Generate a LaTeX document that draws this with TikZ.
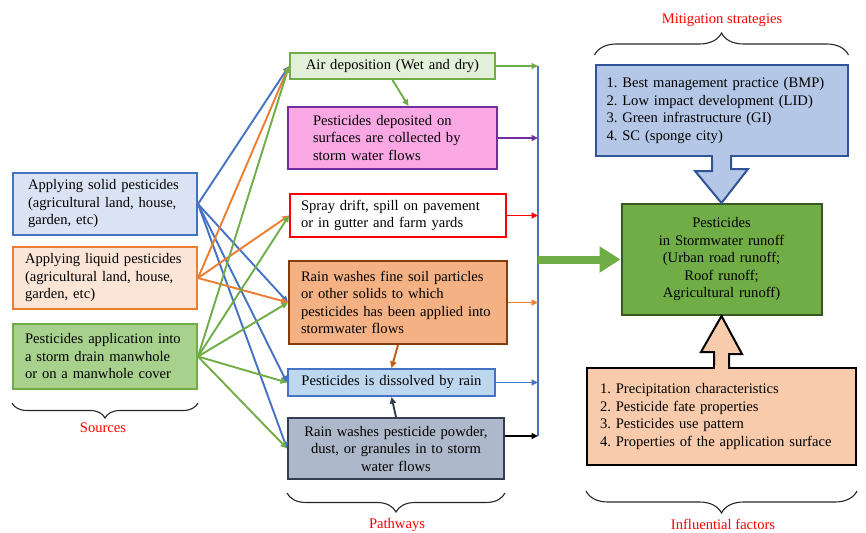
\documentclass[tikz,border=0pt]{standalone}
\usepackage{fontspec}
\setmainfont{Liberation Serif}
\usetikzlibrary{arrows.meta,decorations.pathreplacing,calc}
\frenchspacing

\definecolor{lineblue}{HTML}{4472C4}
\definecolor{lineorange}{HTML}{ED7D31}
\definecolor{linegreen}{HTML}{70AD47}
\definecolor{srcblue}{HTML}{DAE3F3}
\definecolor{srcorange}{HTML}{FBE5D6}
\definecolor{srcgreen}{HTML}{A9D18E}
\definecolor{airfill}{HTML}{E2F0D9}
\definecolor{pinkfill}{HTML}{F9A8E4}
\definecolor{purpleline}{HTML}{7030A0}
\definecolor{soilfill}{HTML}{F4B183}
\definecolor{soilline}{HTML}{843C0C}
\definecolor{soilarrow}{HTML}{C55A11}
\definecolor{rainfill}{HTML}{BDD7EE}
\definecolor{dustfill}{HTML}{ADB9CA}
\definecolor{dustline}{HTML}{333F50}
\definecolor{mitfill}{HTML}{B4C7E7}
\definecolor{mitline}{HTML}{2F5597}
\definecolor{runfill}{HTML}{70AD47}
\definecolor{runline}{HTML}{385723}
\definecolor{facfill}{HTML}{F8CBAD}

\begin{document}
\begin{tikzpicture}
  [x=1pt,y=-1pt,
   font=\fontsize{14.6}{17.5}\selectfont,
   box/.style={draw,line width=2pt,inner ysep=3pt},
   link/.style={line width=1.9pt,-{Triangle[length=6.5pt,width=6pt]}},
   brc/.style={decorate,decoration={brace,amplitude=#1},draw=black!85,line width=1.1pt},
   lbl/.style={text=red}]
  \useasboundingbox (0,0) rectangle (866,532);

  % Sources
  \node[box,draw=lineblue,fill=srcblue,inner xsep=15pt,text width=154pt,minimum height=62pt,align=left] (S1) at (105,204)
    {Applying solid pesticides\\(agricultural land, house,\\garden, etc)};
  \node[box,draw=lineorange,fill=srcorange,inner xsep=12pt,text width=160pt,minimum height=62pt,align=left] (S2) at (105,278)
    {Applying liquid pesticides\\(agricultural land, house,\\garden, etc)};
  \node[box,draw=linegreen,fill=srcgreen,inner xsep=12pt,text width=160pt,minimum height=65pt,align=left] (S3) at (105,356.5)
    {Pesticides application into\\a storm drain manwhole\\or on a manwhole cover};

  % Pathways
  \node[box,draw=linegreen,fill=airfill,inner xsep=6pt,text width=193pt,minimum height=26pt,align=center] (P1) at (392.5,66)
    {Air deposition (Wet and dry)};
  \node[box,draw=purpleline,fill=pinkfill,inner xsep=25pt,text width=159pt,minimum height=62pt,align=left] (P2) at (392.5,138)
    {Pesticides deposited on\\surfaces are collected by\\storm water flows};
  \node[box,draw=red,fill=white,inner xsep=11pt,text width=194pt,minimum height=43pt,align=left] (P3) at (398,215.5)
    {Spray drift, spill on pavement\\or in gutter and farm yards};
  \node[box,draw=soilline,fill=soilfill,inner xsep=12pt,text width=194pt,minimum height=83pt,align=left] (P4) at (398,302.5)
    {Rain washes fine soil particles\\or other solids to which\\pesticides has been applied into\\stormwater flows};
  \node[box,draw=lineblue,fill=rainfill,inner xsep=6pt,text width=195pt,minimum height=27pt,align=center] (P5) at (391.5,382.5)
    {Pesticides is dissolved by rain};
  \node[box,draw=dustline,fill=dustfill,inner xsep=6pt,text width=204pt,minimum height=61pt,align=center] (P6) at (396,448.5)
    {Rain washes pesticide powder,\\dust, or granules in to storm\\water flows};

  % Mitigation, runoff, factors
  \node[box,draw=mitline,fill=mitfill,inner xsep=11pt,text width=230pt,minimum height=91pt,align=left] (MS) at (721.5,110.5)
    {1. Best management practice (BMP)\\2. Low impact development (LID)\\3. Green infrastructure (GI)\\4. SC (sponge city)};
  \node[box,draw=runline,fill=runfill,inner xsep=6pt,text width=188pt,minimum height=111pt,align=center] (GR) at (721.5,259.5)
    {Pesticides\\in Stormwater runoff\\(Urban road runoff;\\Roof runoff;\\Agricultural runoff)};
  \node[box,draw=black,fill=facfill,inner xsep=13pt,text width=243pt,minimum height=97pt,align=left] (IF) at (721.5,416.5)
    {1. Precipitation characteristics\\2. Pesticide fate properties\\3. Pesticides use pattern\\4. Properties of the application surface};

  % block arrows into the runoff box
  \draw[mitline,fill=mitfill,line width=2pt,line join=miter]
    ([xshift=-9.5pt]MS.south) -- ++(0,14) -- ++(-17,0) -- (GR.north) -- ++(26.5,-34) -- ++(-17,0) -- ([xshift=9.5pt]MS.south);
  \fill[mitfill] ($(MS.south)+(-8.5,-2)$) rectangle ($(MS.south)+(8.5,3)$);
  \draw[black,fill=facfill,line width=2pt,line join=miter]
    ([xshift=-7.5pt]IF.north) -- ++(0,-15) -- ++(-13,0) -- (GR.south) -- ++(20.5,38) -- ++(-13,0) -- ([xshift=7.5pt]IF.north);
  \fill[facfill] ($(IF.north)+(-6.5,-2)$) rectangle ($(IF.north)+(6.5,3)$);

  % Sources to pathways
  \draw[link,lineblue] (S1.east) -- (P1.west);
  \draw[link,lineblue] (S1.east) -- (P4.west);
  \draw[link,lineblue] (S1.east) -- (P5.west);
  \draw[link,lineblue] (S1.east) -- (P6.west);
  \draw[link,lineorange] (S2.east) -- (P1.west);
  \draw[link,lineorange] (S2.east) -- (P3.west);
  \draw[link,lineorange] (S2.east) -- (P4.west);
  \draw[link,linegreen] (S3.east) -- (P1.west);
  \draw[link,linegreen] (S3.east) -- (P3.west);
  \draw[link,linegreen] (S3.east) -- (P4.west);
  \draw[link,linegreen] (S3.east) -- (P5.west);
  \draw[link,linegreen] (S3.east) -- (P6.west);

  % between pathways
  \draw[link,linegreen] (P1.south) -- ([xshift=16pt]P2.north);
  \draw[link,soilarrow] (P4.south) -- (P5.north);
  \draw[link,dustline] (P6.north) -- (P5.south);

  % collecting line
  \coordinate (busTop) at (538,66);
  \coordinate (busBot) at (538,436);
  \coordinate (busMid) at (538,259.5);
  \draw[lineblue,line width=1.9pt] (busTop) -- (busBot);
  \draw[link,linegreen] (P1.east) -- (P1.east -| busTop);
  \draw[link,purpleline] (P2.east) -- (P2.east -| busTop);
  \draw[link,red] (P3.east) -- (P3.east -| busTop);
  \draw[link,lineorange] (P4.east) -- (P4.east -| busTop);
  \draw[link,lineblue] (P5.east) -- (P5.east -| busTop);
  \draw[link,black] (P6.east |- busBot) -- (busBot);
  \draw[linegreen,line width=8pt,-{Triangle[length=21pt,width=25pt]}] (busMid) -- (GR.west);

  % braces and group labels
  \draw[brc=15pt] ([yshift=-13pt]S3.south east) -- ([yshift=-13pt]S3.south west);
  \node[lbl] (srcL) at (103,428) {Sources};
  \draw[brc=19pt] ([yshift=-13pt]P6.south east) -- ([yshift=-13pt]P6.south west);
  \node[lbl] (pathL) at (397,525) {Pathways};
  \draw[brc=22pt] ([yshift=9pt]MS.north west) -- ([yshift=9pt]MS.north east);
  \node[lbl] (mitL) at (722,20) {Mitigation strategies};
  \draw[brc=22pt] ([yshift=-25pt]IF.south east) -- ([yshift=-25pt]IF.south west);
  \node[lbl] (facL) at (723,524) {Influential factors};
\end{tikzpicture}
\end{document}
